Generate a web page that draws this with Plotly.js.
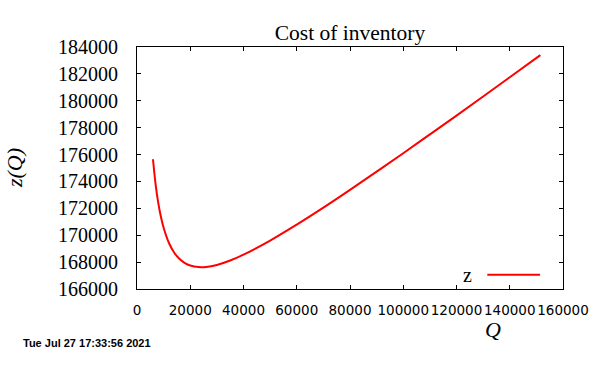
<!DOCTYPE html>
<html>
<head>
<meta charset="utf-8">
<script src="https://cdn.plot.ly/plotly-3.0.1.min.js"></script>
<style>html,body{margin:0;padding:0;background:#fff;}#chart{width:600px;height:370px;}</style>
</head>
<body>
<div id="chart"></div>
<script>
// Order quantity Q and cost z(Q)
var qValues = [6000, 7000, 8000, 9000, 10000, 12000, 14000, 16000, 18000, 20000, 23000, 26000, 30000, 35000, 40000, 50000, 60000, 70000, 80000, 90000, 100000, 110000, 120000, 130000, 140000, 151500];
var zValues = [175650, 173770, 172390, 171350, 170550, 169420, 168700, 168230, 167930, 167750, 167630, 167640, 167790, 168120, 168550, 169600, 170790, 172050, 173370, 174730, 176100, 177500, 178900, 180320, 181750, 183400];
var xTicks = [0, 20000, 40000, 60000, 80000, 100000, 120000, 140000, 160000];
var yTicks = [166000, 168000, 170000, 172000, 174000, 176000, 178000, 180000, 182000, 184000];
var seriesName = 'z';
var chartTitle = 'Cost of inventory';
var stamp = 'Tue Jul 27 17:33:56 2021';

var serif = 'Liberation Serif, Times New Roman, serif';
var trace = {
  x: qValues, y: zValues, type: 'scatter', mode: 'lines', name: seriesName,
  line: {color: '#ff0000', width: 2, shape: 'spline'}, showlegend: false
};
var layout = {
  width: 600, height: 370,
  margin: {l: 137, r: 37, t: 47, b: 81},
  paper_bgcolor: '#fff', plot_bgcolor: '#fff',
  title: {text: chartTitle, font: {family: serif, size: 21.5, color: '#000'}, x: 0.5, xanchor: 'center', xref: 'paper', y: 1 - 32/370, yanchor: 'middle'},
  xaxis: {
    range: [0, 160000], tickvals: xTicks, ticktext: xTicks.map(String), tickangle: 0,
    showgrid: false, zeroline: false, showline: true, linecolor: '#000', linewidth: 1, mirror: 'ticks',
    ticks: 'inside', ticklen: 4, tickcolor: '#000', tickwidth: 1,
    tickfont: {family: 'DejaVu Sans, sans-serif', size: 13.5, color: '#000'}, ticklabelstandoff: 9
  },
  yaxis: {
    range: [166000, 184000], tickvals: yTicks, ticktext: yTicks.map(String),
    showgrid: false, zeroline: false, showline: true, linecolor: '#000', linewidth: 1, mirror: 'ticks',
    ticks: 'inside', ticklen: 4, tickcolor: '#000', tickwidth: 1,
    tickfont: {family: serif, size: 20, color: '#000'}, ticklabelstandoff: 14
  },
  shapes: [
    {type: 'line', xref: 'paper', yref: 'paper', x0: 0.8223, x1: 0.9460, y0: 0.0591, y1: 0.0591, line: {color: '#ff0000', width: 2}}
  ],
  annotations: [
    {text: seriesName, xref: 'paper', yref: 'paper', x: 0.7754, y: 0.0579, xanchor: 'center', yanchor: 'middle', showarrow: false, font: {family: serif, size: 20, color: '#000'}},
    {text: 'z(Q)', xref: 'paper', yref: 'paper', x: -0.2887, y: 0.5, xanchor: 'center', yanchor: 'middle', textangle: -90, showarrow: false, font: {family: serif, size: 22, color: '#000', style: 'italic'}},
    {text: 'Q', xref: 'paper', yref: 'paper', x: 0.8357, y: -0.1694, xanchor: 'center', yanchor: 'middle', showarrow: false, font: {family: serif, size: 22, color: '#000', style: 'italic'}},
    {text: '<b>' + stamp + '</b>', xref: 'paper', yref: 'paper', x: -0.2723, y: -0.2231, xanchor: 'left', yanchor: 'middle', showarrow: false, font: {family: 'Liberation Sans, Arial, sans-serif', size: 11, color: '#000'}}
  ]
};
Plotly.newPlot('chart', [trace], layout, {displayModeBar: false, staticPlot: true});
</script>
</body>
</html>
